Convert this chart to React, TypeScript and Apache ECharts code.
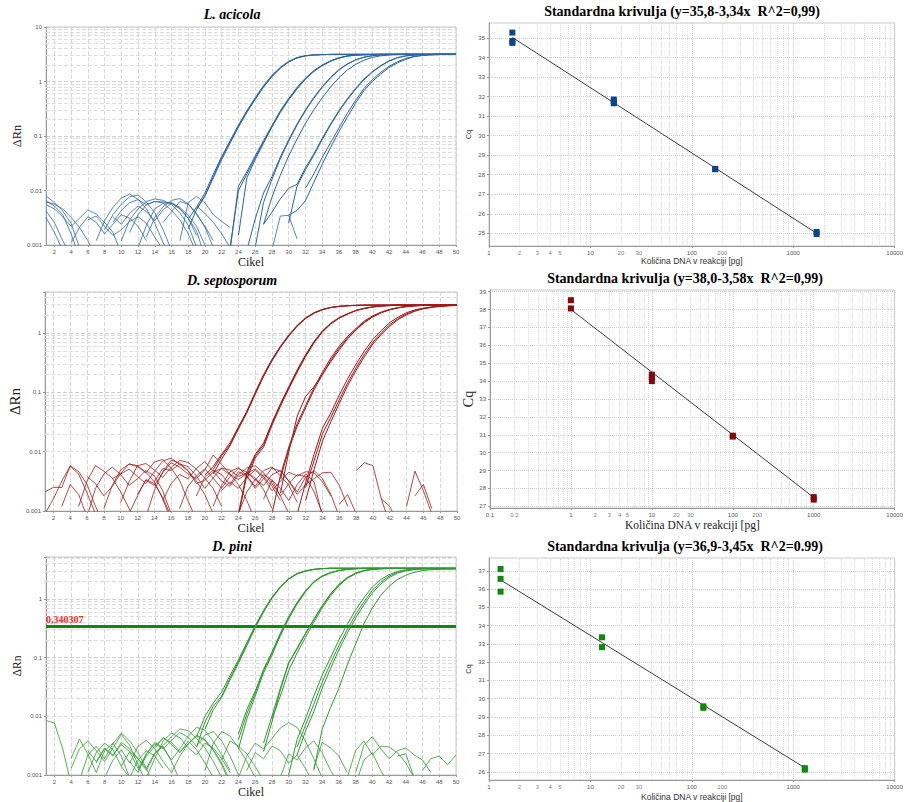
import React, { useEffect, useRef } from "react";
import * as echarts from "echarts";

type Curve = [number, number[]];

const SANS = '"Liberation Sans", Arial, sans-serif';
const SERIF = '"Liberation Serif", "Times New Roman", serif';

// ---------- tick / grid values ----------
const cycleTicks = [2, 4, 6, 8, 10, 12, 14, 16, 18, 20, 22, 24, 26, 28, 30, 32, 34, 36, 38, 40, 42, 44, 46, 48, 50];
const deltaRnMinorGrid = [
  0.002, 0.003, 0.004, 0.005, 0.006, 0.007, 0.008, 0.009,
  0.02, 0.03, 0.04, 0.05, 0.06, 0.07, 0.08, 0.09,
  0.2, 0.3, 0.4, 0.5, 0.6, 0.7, 0.8, 0.9,
  2, 3, 4, 5, 6, 7, 8, 9,
];
const dnaMinorGrid = [
  0.2, 0.3, 0.4, 0.5, 0.6, 0.7, 0.8, 0.9,
  2, 3, 4, 5, 6, 7, 8, 9,
  20, 30, 40, 50, 60, 70, 80, 90,
  200, 300, 400, 500, 600, 700, 800, 900,
  2000, 3000, 4000, 5000, 6000, 7000, 8000, 9000,
];
const dnaMinorLabelsA = [2, 3, 4, 5, 20, 30, 200];
const dnaMinorLabelsB = [0.2, 2, 3, 4, 5, 20, 30, 200];
const cqTicksAcicola = [25, 26, 27, 28, 29, 30, 31, 32, 33, 34, 35];
const cqTicksSepto = [27, 28, 29, 30, 31, 32, 33, 34, 35, 36, 37, 38, 39];
const cqTicksPini = [26, 27, 28, 29, 30, 31, 32, 33, 34, 35, 36, 37];
const piniThreshold = 0.340307;

// ---------- L. acicola amplification (start cycle, ΔRn values) ----------
const acicolaAmp: Curve[] = [
  [18, [0.003, 0.005, 0.009, 0.02, 0.042, 0.082, 0.16, 0.29, 0.5, 0.84, 1.3, 1.82, 2.35, 2.75, 2.98, 3.08, 3.12, 3.14, 3.15, 3.15, 3.15, 3.15, 3.15, 3.15, 3.15, 3.15, 3.15, 3.15, 3.15, 3.15, 3.15, 3.15, 3.15]],
  [19, [0.0045, 0.008, 0.018, 0.04, 0.078, 0.15, 0.28, 0.48, 0.8, 1.25, 1.78, 2.3, 2.72, 2.96, 3.07, 3.12, 3.14, 3.15, 3.15, 3.15, 3.15, 3.15, 3.15, 3.15, 3.15, 3.15, 3.15, 3.15, 3.15, 3.15, 3.15, 3.15]],
  [18, [0.002, 0.0045, 0.008, 0.017, 0.037, 0.074, 0.145, 0.27, 0.47, 0.79, 1.22, 1.75, 2.28, 2.7, 2.95, 3.06, 3.11, 3.14, 3.15, 3.15, 3.15, 3.15, 3.15, 3.15, 3.15, 3.15, 3.15, 3.15, 3.15, 3.15, 3.15, 3.15, 3.15]],
  [23, [0.0008, 0.012, 0.022, 0.043, 0.082, 0.155, 0.29, 0.49, 0.78, 1.15, 1.58, 2.0, 2.4, 2.72, 2.95, 3.06, 3.11, 3.13, 3.15, 3.15, 3.15, 3.15, 3.15, 3.15, 3.15, 3.15, 3.15, 3.15]],
  [23, [0.0009, 0.01, 0.02, 0.04, 0.078, 0.15, 0.28, 0.47, 0.75, 1.12, 1.55, 1.97, 2.37, 2.7, 2.93, 3.05, 3.1, 3.13, 3.15, 3.15, 3.15, 3.15, 3.15, 3.15, 3.15, 3.15, 3.15, 3.15]],
  [24, [0.0015, 0.017, 0.037, 0.074, 0.145, 0.27, 0.46, 0.73, 1.1, 1.52, 1.95, 2.35, 2.68, 2.92, 3.04, 3.1, 3.13, 3.15, 3.15, 3.15, 3.15, 3.15, 3.15, 3.15, 3.15, 3.15, 3.15]],
  [25, [0.0008, 0.003, 0.009, 0.018, 0.041, 0.085, 0.166, 0.3, 0.51, 0.8, 1.19, 1.65, 2.1, 2.5, 2.8, 2.98, 3.08, 3.12, 3.14, 3.15, 3.15, 3.15, 3.15, 3.15, 3.15, 3.15]],
  [26, [0.0009, 0.006, 0.016, 0.038, 0.08, 0.158, 0.29, 0.49, 0.78, 1.16, 1.62, 2.07, 2.48, 2.78, 2.97, 3.07, 3.12, 3.14, 3.15, 3.15, 3.15, 3.15, 3.15, 3.15, 3.15]],
  [27, [0.0024, 0.0075, 0.019, 0.043, 0.088, 0.17, 0.3, 0.5, 0.79, 1.17, 1.62, 2.06, 2.46, 2.77, 2.96, 3.06, 3.11, 3.15, 3.15, 3.15, 3.15, 3.15, 3.15, 3.15]],
  [27, [0.0024, 0.004, 0.007, 0.011, 0.013, 0.026, 0.047, 0.09, 0.166, 0.29, 0.48, 0.75, 1.11, 1.52, 1.96, 2.4, 2.75, 2.96, 3.06, 3.11, 3.13, 3.15, 3.15, 3.15]],
  [30, [0.0025, 0.012, 0.024, 0.044, 0.085, 0.158, 0.28, 0.46, 0.72, 1.07, 1.48, 1.92, 2.36, 2.72, 2.94, 3.05, 3.1, 3.13, 3.15, 3.15, 3.15]],
  [30, [0.0035, 0.0043, 0.0065, 0.014, 0.03, 0.061, 0.12, 0.22, 0.4, 0.68, 1.0, 1.37, 1.8, 2.2, 2.55, 2.85, 3.0, 3.08, 3.12, 3.14, 3.15]],
  [32, [0.011, 0.02, 0.04, 0.075, 0.14, 0.26, 0.45, 0.74, 1.08, 1.47, 1.9, 2.3, 2.65, 2.9, 3.03, 3.09, 3.12, 3.14, 3.15]],
];
const acicolaNoise: Curve[] = [
  [1, [0.008, 0.006, 0.0042, 0.0025, 0.0009]],
  [1, [0.0065, 0.0052, 0.0036, 0.0016, 0.0006]],
  [1, [0.0062, 0.0056, 0.0046, 0.0032, 0.0021, 0.0012, 0.0006]],
  [1, [0.0042, 0.0026, 0.0012, 0.0006]],
  [1, [0.0032, 0.0017, 0.0008]],
  [1, [0.0055, 0.0046, 0.0033, 0.0022, 0.0031, 0.0044, 0.0037, 0.0026, 0.0017, 0.0007]],
  [4, [0.0011, 0.0021, 0.0033, 0.0026, 0.0016, 0.0024, 0.0036, 0.0031, 0.0022, 0.0012]],
  [7, [0.0012, 0.0028, 0.0049, 0.0073, 0.0086, 0.0069, 0.0046, 0.0025, 0.0011, 0.0006]],
  [8, [0.0019, 0.0036, 0.0056, 0.0077, 0.0083, 0.0061, 0.0039, 0.0019, 0.0008]],
  [9, [0.0026, 0.0043, 0.006, 0.0068, 0.0055, 0.0063, 0.0059, 0.0043, 0.0029, 0.0016, 0.0007]],
  [10, [0.0012, 0.0029, 0.0046, 0.0063, 0.007, 0.0066, 0.0055, 0.0039, 0.0023, 0.0009]],
  [11, [0.0017, 0.0036, 0.0055, 0.0063, 0.0062, 0.0058, 0.0046, 0.0031, 0.0015]],
  [12, [0.0009, 0.0023, 0.0046, 0.0058, 0.006, 0.0049, 0.0035, 0.0022, 0.001]],
  [6, [0.0029, 0.0034, 0.0022, 0.0015, 0.0019, 0.0027, 0.0033, 0.0025, 0.0014, 0.0008]],
  [15, [0.0026, 0.0041, 0.0063, 0.0056, 0.0036, 0.0022, 0.0012]],
  [17, [0.0012, 0.006, 0.0078, 0.0059, 0.0036, 0.0027, 0.0021]],
  [19, [0.0052, 0.0038, 0.0026, 0.0016, 0.0009]],
  [28, [0.0008, 0.0034, 0.0035, 0.0013]],
  [9, [0.0033, 0.0024, 0.0038, 0.0052, 0.0041, 0.0028, 0.0044, 0.0058, 0.0047, 0.0031, 0.0018, 0.0006]],
  [13, [0.0014, 0.0032, 0.005, 0.0066, 0.0071, 0.0057, 0.0038, 0.0021, 0.0009]],
];
const acicolaStdX = [1.7, 1.7, 1.7, 17, 17, 17, 170, 170, 1700, 1700];
const acicolaStdCq = [35.28, 34.85, 34.75, 31.85, 31.75, 31.66, 28.3, 28.28, 25.07, 24.96];
const acicolaFitX = [1.7, 1700];
const acicolaFitCq = [35.03, 25.0];

// ---------- D. septosporum ----------
const septoAmp: Curve[] = [
  [20, [0.004, 0.0056, 0.009, 0.014, 0.026, 0.048, 0.1, 0.2, 0.36, 0.6, 0.93, 1.35, 1.8, 2.2, 2.5, 2.7, 2.82, 2.88, 2.92, 2.94, 2.95, 2.95, 2.95, 2.95, 2.95, 2.95, 2.95, 2.95, 2.95, 2.95, 2.95]],
  [21, [0.005, 0.0085, 0.013, 0.025, 0.046, 0.095, 0.19, 0.35, 0.58, 0.9, 1.32, 1.77, 2.17, 2.48, 2.69, 2.81, 2.88, 2.92, 2.94, 2.95, 2.95, 2.95, 2.95, 2.95, 2.95, 2.95, 2.95, 2.95, 2.95, 2.95]],
  [21, [0.0042, 0.0075, 0.0125, 0.024, 0.045, 0.093, 0.186, 0.34, 0.57, 0.89, 1.3, 1.75, 2.15, 2.46, 2.68, 2.8, 2.87, 2.91, 2.94, 2.95, 2.95, 2.95, 2.95, 2.95, 2.95, 2.95, 2.95, 2.95, 2.95, 2.95]],
  [24, [0.0008, 0.004, 0.0085, 0.013, 0.03, 0.062, 0.12, 0.23, 0.42, 0.7, 1.07, 1.45, 1.8, 2.1, 2.4, 2.6, 2.75, 2.85, 2.9, 2.94, 2.94, 2.94, 2.94, 2.94, 2.94, 2.94, 2.94]],
  [24, [0.0009, 0.0045, 0.009, 0.014, 0.031, 0.064, 0.125, 0.24, 0.43, 0.72, 1.09, 1.47, 1.82, 2.12, 2.41, 2.61, 2.76, 2.85, 2.9, 2.94, 2.94, 2.94, 2.94, 2.94, 2.94, 2.94, 2.94]],
  [25, [0.0035, 0.0078, 0.012, 0.028, 0.058, 0.115, 0.22, 0.4, 0.68, 1.04, 1.42, 1.78, 2.08, 2.38, 2.58, 2.74, 2.84, 2.9, 2.94, 2.94, 2.94, 2.94, 2.94, 2.94, 2.94, 2.94]],
  [28, [0.0009, 0.004, 0.012, 0.03, 0.06, 0.12, 0.22, 0.38, 0.6, 0.88, 1.2, 1.6, 1.95, 2.25, 2.5, 2.68, 2.8, 2.88, 2.92, 2.94, 2.94, 2.94, 2.94]],
  [29, [0.002, 0.01, 0.04, 0.085, 0.125, 0.2, 0.33, 0.52, 0.8, 1.13, 1.5, 1.87, 2.2, 2.46, 2.65, 2.78, 2.86, 2.91, 2.93, 2.94, 2.94, 2.94]],
  [29, [0.0035, 0.011, 0.027, 0.055, 0.11, 0.2, 0.35, 0.56, 0.83, 1.15, 1.54, 1.9, 2.21, 2.47, 2.66, 2.79, 2.87, 2.91, 2.93, 2.94, 2.94, 2.94]],
  [31, [0.0009, 0.003, 0.009, 0.025, 0.045, 0.09, 0.17, 0.3, 0.5, 0.78, 1.1, 1.5, 1.85, 2.2, 2.45, 2.62, 2.75, 2.85, 2.9, 2.93]],
  [32, [0.0025, 0.007, 0.02, 0.038, 0.075, 0.145, 0.26, 0.44, 0.7, 1.0, 1.38, 1.75, 2.1, 2.38, 2.58, 2.72, 2.82, 2.88, 2.92]],
  [32, [0.0015, 0.005, 0.015, 0.032, 0.065, 0.13, 0.235, 0.4, 0.65, 0.95, 1.3, 1.68, 2.03, 2.33, 2.55, 2.7, 2.8, 2.87, 2.91]],
];
const septoNoise: Curve[] = [
  [1, [0.0021, 0.0025, 0.0025, 0.0058, 0.0046, 0.0028, 0.0012, 0.0006]],
  [1, [0.0009, 0.0016, 0.0032, 0.0057, 0.0042, 0.002, 0.0009]],
  [5, [0.0012, 0.0032, 0.0058, 0.0047, 0.0036, 0.0021, 0.0011, 0.0006]],
  [6, [0.0008, 0.0024, 0.0042, 0.0055, 0.0041, 0.0027, 0.0035, 0.0048, 0.0039, 0.0022, 0.0009]],
  [6, [0.0038, 0.0029, 0.0018, 0.0026, 0.0043, 0.0062, 0.0058, 0.0045, 0.0031, 0.0016, 0.0007]],
  [8, [0.0011, 0.0027, 0.0049, 0.0062, 0.0056, 0.0044, 0.0067, 0.0074, 0.0053, 0.0033, 0.0015, 0.0007]],
  [9, [0.0035, 0.0042, 0.0051, 0.0038, 0.0029, 0.0046, 0.0069, 0.0078, 0.0061, 0.0048, 0.0032, 0.0019, 0.0009]],
  [10, [0.0014, 0.0031, 0.0058, 0.0063, 0.0049, 0.0037, 0.0054, 0.0071, 0.0066, 0.0051, 0.0036, 0.0024, 0.0012]],
  [12, [0.0019, 0.0033, 0.0027, 0.0044, 0.0065, 0.0055, 0.0042, 0.0035, 0.0049, 0.0088, 0.0061, 0.0042, 0.0028, 0.0015, 0.0007]],
  [13, [0.0008, 0.0022, 0.0046, 0.0072, 0.0064, 0.0048, 0.0029, 0.0033, 0.0045, 0.0052, 0.0041, 0.0034, 0.0043, 0.0051, 0.0038, 0.0026, 0.0015]],
  [14, [0.0031, 0.0052, 0.0048, 0.0062, 0.0056, 0.0039, 0.0024, 0.0036, 0.0053, 0.0049, 0.0038, 0.0044, 0.0036, 0.0023, 0.0011]],
  [15, [0.0015, 0.0029, 0.0041, 0.0035, 0.0052, 0.0068, 0.0047, 0.0032, 0.0026, 0.0041, 0.0053, 0.0058, 0.0044, 0.0029, 0.0018, 0.0009]],
  [17, [0.0011, 0.0026, 0.0039, 0.0051, 0.0036, 0.0024, 0.0038, 0.0052, 0.0045, 0.0033, 0.0048, 0.0055, 0.0039, 0.0027, 0.0014]],
  [19, [0.0018, 0.0037, 0.0049, 0.0041, 0.0028, 0.0046, 0.0039, 0.0024, 0.0035, 0.0053, 0.0047, 0.0032, 0.0021, 0.0037, 0.0048, 0.0035, 0.0019, 0.0008]],
  [21, [0.0012, 0.0027, 0.0046, 0.0054, 0.0039, 0.0026, 0.0041, 0.0033, 0.0018, 0.0029, 0.0041, 0.0038, 0.0021, 0.0009]],
  [22, [0.0022, 0.0031, 0.0024, 0.0037, 0.0049, 0.0036, 0.0022, 0.0032, 0.0045, 0.0039, 0.0046, 0.0044, 0.0031, 0.0018]],
  [24, [0.0009, 0.0021, 0.0034, 0.0027, 0.0041, 0.0048, 0.0032, 0.0019, 0.0028, 0.0035, 0.0044, 0.0045, 0.0027, 0.0012]],
  [27, [0.0016, 0.0033, 0.0024, 0.0015, 0.0028, 0.0042, 0.0031, 0.0008]],
  [3, [0.0012, 0.0028, 0.0019, 0.0008]],
  [11, [0.0009, 0.0018, 0.0034, 0.0029, 0.0017, 0.0008]],
  [38, [0.0048, 0.0065, 0.0058, 0.0016, 0.0006]],
  [44, [0.0012, 0.0047, 0.0022, 0.0009]],
  [36, [0.0013, 0.0019, 0.0009]],
  [41, [0.0016, 0.0012, 0.0006]],
  [45, [0.0018, 0.0028, 0.0011]],
];
const septoStdX = [1, 1, 10, 10, 10, 100, 100, 1000, 1000];
const septoStdCq = [38.52, 38.06, 34.36, 34.2, 34.0, 30.95, 30.9, 27.52, 27.38];
const septoFitX = [1, 1000];
const septoFitCq = [38.0, 27.5];

// ---------- D. pini ----------
const piniAmp: Curve[] = [
  [19, [0.003, 0.008, 0.015, 0.022, 0.045, 0.085, 0.17, 0.34, 0.62, 1.05, 1.6, 2.2, 2.7, 3.0, 3.2, 3.3, 3.35, 3.35, 3.35, 3.35, 3.35, 3.35, 3.35, 3.35, 3.35, 3.35, 3.35, 3.35, 3.35, 3.35, 3.35, 3.35]],
  [19, [0.0045, 0.01, 0.017, 0.026, 0.05, 0.092, 0.18, 0.35, 0.64, 1.07, 1.62, 2.22, 2.72, 3.02, 3.21, 3.3, 3.35, 3.35, 3.35, 3.35, 3.35, 3.35, 3.35, 3.35, 3.35, 3.35, 3.35, 3.35, 3.35, 3.35, 3.35, 3.35]],
  [20, [0.006, 0.013, 0.021, 0.042, 0.08, 0.16, 0.32, 0.6, 1.02, 1.57, 2.17, 2.67, 2.98, 3.18, 3.28, 3.34, 3.34, 3.34, 3.34, 3.34, 3.34, 3.34, 3.34, 3.34, 3.34, 3.34, 3.34, 3.34, 3.34, 3.34, 3.34]],
  [24, [0.004, 0.011, 0.025, 0.06, 0.12, 0.25, 0.48, 0.85, 1.35, 1.95, 2.45, 2.8, 3.05, 3.2, 3.28, 3.33, 3.33, 3.33, 3.33, 3.33, 3.33, 3.33, 3.33, 3.33, 3.33, 3.33, 3.33]],
  [24, [0.005, 0.013, 0.027, 0.063, 0.125, 0.26, 0.5, 0.87, 1.38, 1.97, 2.47, 2.82, 3.06, 3.21, 3.29, 3.33, 3.33, 3.33, 3.33, 3.33, 3.33, 3.33, 3.33, 3.33, 3.33, 3.33, 3.33]],
  [24, [0.0028, 0.009, 0.022, 0.055, 0.11, 0.235, 0.46, 0.82, 1.32, 1.92, 2.42, 2.78, 3.04, 3.19, 3.27, 3.33, 3.33, 3.33, 3.33, 3.33, 3.33, 3.33, 3.33, 3.33, 3.33, 3.33, 3.33]],
  [27, [0.0025, 0.008, 0.028, 0.08, 0.14, 0.25, 0.44, 0.75, 1.2, 1.75, 2.3, 2.75, 3.05, 3.2, 3.28, 3.32, 3.32, 3.32, 3.32, 3.32, 3.32, 3.32, 3.32, 3.32]],
  [27, [0.0035, 0.01, 0.03, 0.082, 0.145, 0.26, 0.45, 0.77, 1.22, 1.77, 2.32, 2.76, 3.06, 3.21, 3.29, 3.32, 3.32, 3.32, 3.32, 3.32, 3.32, 3.32, 3.32, 3.32]],
  [28, [0.009, 0.022, 0.06, 0.12, 0.22, 0.4, 0.7, 1.13, 1.68, 2.24, 2.7, 3.02, 3.19, 3.27, 3.31, 3.31, 3.31, 3.31, 3.31, 3.31, 3.31, 3.31, 3.31]],
  [30, [0.001, 0.004, 0.009, 0.022, 0.05, 0.1, 0.2, 0.37, 0.65, 1.05, 1.6, 2.15, 2.6, 2.95, 3.15, 3.25, 3.3, 3.3, 3.3, 3.3, 3.3]],
  [31, [0.003, 0.007, 0.016, 0.038, 0.08, 0.16, 0.3, 0.54, 0.9, 1.4, 1.95, 2.45, 2.85, 3.08, 3.2, 3.26, 3.28, 3.29, 3.3, 3.3]],
  [31, [0.0022, 0.0055, 0.012, 0.03, 0.065, 0.135, 0.26, 0.47, 0.8, 1.27, 1.8, 2.32, 2.75, 3.02, 3.17, 3.24, 3.27, 3.28, 3.29, 3.29]],
  [33, [0.0012, 0.006, 0.014, 0.03, 0.075, 0.17, 0.38, 0.7, 1.15, 1.65, 2.15, 2.55, 2.85, 3.05, 3.15, 3.2, 3.22, 3.24]],
];
const piniNoise: Curve[] = [
  [1, [0.0085, 0.0077, 0.0028, 0.0007]],
  [4, [0.0019, 0.0041, 0.0023, 0.0011, 0.0026, 0.0035, 0.0021, 0.0009]],
  [4, [0.0013, 0.0028, 0.0038, 0.0026, 0.0017, 0.0029, 0.0049, 0.0032, 0.0015, 0.0007]],
  [5, [0.0008, 0.0022, 0.0031, 0.0019, 0.0034, 0.0052, 0.0038, 0.0024, 0.0013, 0.0006]],
  [6, [0.0026, 0.0017, 0.0028, 0.0021, 0.0036, 0.0028, 0.0019, 0.0012, 0.0023, 0.0031, 0.0017, 0.0008]],
  [6, [0.0011, 0.0024, 0.0035, 0.0027, 0.0014, 0.0009, 0.0018, 0.0026, 0.0021, 0.0013]],
  [7, [0.0016, 0.0029, 0.0022, 0.0033, 0.0025, 0.0013, 0.0023, 0.0036, 0.0029, 0.0018, 0.0028, 0.0046, 0.0065, 0.0058, 0.0037, 0.0022, 0.0012]],
  [8, [0.0009, 0.0018, 0.0027, 0.0016, 0.0031, 0.0039, 0.0028, 0.0017, 0.0011, 0.0021, 0.0034, 0.0048, 0.0039, 0.0026, 0.0015, 0.0007]],
  [10, [0.0014, 0.0025, 0.0019, 0.0013, 0.0024, 0.0032, 0.0045, 0.0061, 0.0057, 0.0042, 0.0029, 0.0017, 0.0009]],
  [11, [0.0017, 0.0011, 0.0023, 0.0034, 0.0028, 0.0039, 0.0053, 0.0044, 0.0031, 0.0048, 0.0055, 0.0038, 0.0021, 0.001]],
  [12, [0.0012, 0.0021, 0.0031, 0.0042, 0.0036, 0.0025, 0.0034, 0.0046, 0.004, 0.0027, 0.0016, 0.0008]],
  [13, [0.0009, 0.0019, 0.0038, 0.0052, 0.0043, 0.0029, 0.0022, 0.0035, 0.0029, 0.0019, 0.0011]],
  [14, [0.0028, 0.0044, 0.0033, 0.0024, 0.0038, 0.0027, 0.0016, 0.0009]],
  [20, [0.0012, 0.0035, 0.0055, 0.0046, 0.0029, 0.0017, 0.0009]],
  [22, [0.0018, 0.0038, 0.0031, 0.0023, 0.0014, 0.0008]],
  [24, [0.0009, 0.0021, 0.0035, 0.0028, 0.0042, 0.0063, 0.0078, 0.0065, 0.0038, 0.0019, 0.0009]],
  [25, [0.0012, 0.0024, 0.0019, 0.0031, 0.0026, 0.0016, 0.0022, 0.0013, 0.0007]],
  [29, [0.0009, 0.0023, 0.0018, 0.0029, 0.0038, 0.0024, 0.0012, 0.0007]],
  [33, [0.0013, 0.0036, 0.0029, 0.0021, 0.0011]],
  [37, [0.0009, 0.0026, 0.0038, 0.0022, 0.0031, 0.003, 0.0024, 0.0016, 0.0009]],
  [38, [0.0011, 0.0032, 0.0045, 0.0028, 0.0019, 0.0026, 0.0029, 0.0022, 0.0018, 0.0011]],
  [38, [0.0007, 0.0018, 0.0024, 0.0012, 0.0007]],
  [46, [0.0012, 0.0019, 0.0021, 0.0015, 0.0022]],
  [43, [0.0021, 0.0023, 0.0009]],
];
const piniStdX = [1.3, 1.3, 1.3, 13, 13, 130, 130, 1300, 1300];
const piniStdCq = [37.1, 36.56, 35.86, 33.36, 32.82, 29.58, 29.5, 26.2, 26.12];
const piniFitX = [1.3, 1300];
const piniFitCq = [36.5, 26.22];

// ---------- helpers ----------
const decadeLabel = (v: number) => {
  const l = Math.log10(v);
  return Math.abs(l - Math.round(l)) < 1e-6 ? String(+v.toPrecision(3)) : "";
};

function curveSeries(curves: Curve[], color: string, idx: number, width: number, extra?: any[]) {
  return curves.map(([start, vals], i) => ({
    type: "line",
    xAxisIndex: idx,
    yAxisIndex: idx,
    data: vals.map((v, k) => [start + k, v]),
    symbol: "none",
    silent: true,
    clip: true,
    z: 10,
    lineStyle: { color, width },
    ...(extra && extra[i] ? extra[i] : {}),
  }));
}

function cycleAxis(idx: number, nameSize: number, nameGap: number) {
  return {
    type: "value",
    gridIndex: idx,
    min: 1,
    max: 50,
    name: "Cikel",
    nameLocation: "middle",
    nameGap,
    nameTextStyle: { fontFamily: SERIF, fontSize: nameSize, color: "#222" },
    axisLine: { lineStyle: { color: "#9a9a9a" } },
    axisTick: { customValues: cycleTicks, length: 2, lineStyle: { color: "#9a9a9a" } },
    axisLabel: { customValues: cycleTicks, fontSize: 6, color: "#555", margin: 4, fontFamily: SANS },
    splitLine: { show: true, lineStyle: { color: "#d6d6d6", type: "dashed", width: 1 } },
  };
}

function rnAxis(idx: number, max: number, nameSize: number, nameGap: number) {
  return {
    type: "log",
    logBase: 10,
    gridIndex: idx,
    min: 0.001,
    max,
    name: "ΔRn",
    nameLocation: "middle",
    nameRotate: 90,
    nameGap,
    nameTextStyle: { fontFamily: SERIF, fontSize: nameSize, color: "#222" },
    axisLine: { show: true, lineStyle: { color: "#9a9a9a" } },
    axisTick: { show: true, length: 2, lineStyle: { color: "#9a9a9a" } },
    axisLabel: { formatter: decadeLabel, fontSize: 6, color: "#555", margin: 4, fontFamily: SANS },
    splitLine: { show: true, lineStyle: { color: "#cfcfcf", type: "dashed", width: 1 } },
  };
}

function dnaAxis(idx: number, min: number, nameStyle: any, nameGap: number) {
  return {
    type: "log",
    logBase: 10,
    gridIndex: idx,
    min,
    max: 10000,
    name: "Količina DNA v reakciji [pg]",
    nameLocation: "middle",
    nameGap,
    nameTextStyle: nameStyle,
    axisLine: { lineStyle: { color: "#9a9a9a" } },
    axisTick: { length: 2, lineStyle: { color: "#9a9a9a" } },
    axisLabel: { formatter: (v: number) => String(+v.toPrecision(6)), fontSize: 6, color: "#555", margin: 4, fontFamily: SANS },
    splitLine: { show: true, lineStyle: { color: "#cfcfcf", type: "dotted", width: 1 } },
  };
}

function cqAxis(idx: number, min: number, max: number, ticks: number[], nameStyle: any, nameGap: number) {
  return {
    type: "value",
    gridIndex: idx,
    min,
    max,
    name: "Cq",
    nameLocation: "middle",
    nameRotate: 90,
    nameGap,
    nameTextStyle: nameStyle,
    axisLine: { show: true, lineStyle: { color: "#9a9a9a" } },
    axisTick: { show: true, customValues: ticks, length: 2, lineStyle: { color: "#9a9a9a" } },
    axisLabel: { customValues: ticks, fontSize: 6, color: "#555", margin: 4, fontFamily: SANS },
    splitLine: { show: true, lineStyle: { color: "#cfcfcf", type: "dotted", width: 1 } },
  };
}

function minorGrid(values: number[], axis: "xAxis" | "yAxis", lo: number, hi: number, type: string) {
  return {
    silent: true,
    symbol: "none",
    z: 1,
    animation: false,
    label: { show: false },
    lineStyle: { color: "#dedede", type, width: 1 },
    data: values.filter((v) => v > lo && v < hi).map((v) => ({ [axis]: v })),
  };
}

function stdSeries(idx: number, xs: number[], cqs: number[], fitX: number[], fitCq: number[], color: string, minorLabels: number[], xMin: number, yMin: number) {
  return [
    {
      type: "line",
      xAxisIndex: idx,
      yAxisIndex: idx,
      data: fitX.map((x, i) => [x, fitCq[i]]),
      symbol: "none",
      silent: true,
      z: 8,
      lineStyle: { color: "#3a3a3a", width: 1 },
      markLine: minorGrid(dnaMinorGrid, "xAxis", xMin, 10000, "dotted"),
    },
    {
      type: "scatter",
      xAxisIndex: idx,
      yAxisIndex: idx,
      data: xs.map((x, i) => [x, cqs[i]]),
      symbol: "rect",
      symbolSize: 6,
      silent: true,
      z: 12,
      itemStyle: { color, opacity: 1 },
    },
    {
      type: "scatter",
      xAxisIndex: idx,
      yAxisIndex: idx,
      data: minorLabels.map((v) => [v, yMin]),
      symbolSize: 1,
      silent: true,
      clip: false,
      itemStyle: { color: "rgba(0,0,0,0)" },
      label: {
        show: true,
        position: "bottom",
        distance: 3.5,
        formatter: (p: any) => String(p.value[0]),
        fontSize: 6,
        color: "#555",
        fontFamily: SANS,
      },
    },
  ];
}

const BLUE = "#2b63a8";
const RED = "#a31818";
const GREEN = "#2d9a2d";

export default function App() {
  const ref = useRef<HTMLDivElement>(null);
  useEffect(() => {
    if (!ref.current) return;
    const chart = echarts.init(ref.current, null, { renderer: "svg" });

    const titleStyle = (italic: boolean) => ({
      fontFamily: SERIF,
      fontStyle: italic ? "italic" : "normal",
      fontWeight: "bold",
      fontSize: 14,
      color: "#000",
    });

    const sansName = { fontFamily: SANS, fontSize: 8.5, color: "#333" };
    const sansNameCq = { fontFamily: SANS, fontSize: 7.5, color: "#333" };
    const serifName = { fontFamily: SERIF, fontSize: 11.5, color: "#222" };
    const serifNameCq = { fontFamily: SERIF, fontSize: 14, color: "#222" };

    const gridBase = { show: true, borderColor: "#c8c8c8", borderWidth: 1, containLabel: false };

    const acicolaLines = [
      ...curveSeries(acicolaNoise, BLUE, 0, 0.8, [{ markLine: minorGrid(deltaRnMinorGrid, "yAxis", 0.001, 10, "dashed") }]),
      ...curveSeries(acicolaAmp, BLUE, 0, 1),
    ];
    const septoLines = [
      ...curveSeries(septoNoise, RED, 2, 0.8, [{ markLine: minorGrid(deltaRnMinorGrid, "yAxis", 0.001, 4.9, "dashed") }]),
      ...curveSeries(septoAmp, RED, 2, 1),
    ];
    const piniLines = [
      ...curveSeries(piniNoise, GREEN, 4, 0.8, [{ markLine: minorGrid(deltaRnMinorGrid, "yAxis", 0.001, 5.2, "dashed") }]),
      ...curveSeries(piniAmp, GREEN, 4, 1, [
        {
          markLine: {
            silent: true,
            symbol: "none",
            data: [{ yAxis: piniThreshold }],
            lineStyle: { color: "#0c8a0c", width: 3, type: "solid" },
            label: {
              show: true,
              position: "insideStartTop",
              distance: [0, 2],
              formatter: "0,340307",
              color: "#ff2a2a",
              fontWeight: "bold",
              fontSize: 10,
              fontFamily: SERIF,
            },
          },
        },
      ]),
    ];

    chart.setOption({
      animation: false,
      backgroundColor: "#ffffff",
      title: [
        { text: "L. acicola", left: 232, top: 7, textAlign: "center", padding: 0, textStyle: titleStyle(true) },
        { text: "Standardna krivulja (y=35,8-3,34x  R^2=0,99)", left: 682, top: 4, textAlign: "center", padding: 0, textStyle: titleStyle(false) },
        { text: "D. septosporum", left: 232, top: 273, textAlign: "center", padding: 0, textStyle: titleStyle(true) },
        { text: "Standardna krivulja (y=38,0-3,58x  R^2=0,99)", left: 685, top: 271, textAlign: "center", padding: 0, textStyle: titleStyle(false) },
        { text: "D. pini", left: 232, top: 539, textAlign: "center", padding: 0, textStyle: titleStyle(true) },
        { text: "Standardna krivulja (y=36,9-3,45x  R^2=0.99)", left: 685, top: 539, textAlign: "center", padding: 0, textStyle: titleStyle(false) },
      ],
      grid: [
        { ...gridBase, left: 46, top: 27, width: 410, height: 218 },
        { ...gridBase, left: 489, top: 23, width: 418, height: 223 },
        { ...gridBase, left: 45, top: 292, width: 412, height: 219 },
        { ...gridBase, left: 490, top: 290, width: 420, height: 218 },
        { ...gridBase, left: 46, top: 557, width: 410, height: 218 },
        { ...gridBase, left: 489, top: 558, width: 418, height: 222 },
      ],
      xAxis: [
        cycleAxis(0, 12, 11),
        dnaAxis(1, 1, sansName, 9),
        cycleAxis(2, 12.5, 10),
        dnaAxis(3, 0.1, serifName, 10),
        cycleAxis(4, 12, 11),
        dnaAxis(5, 1, sansName, 12),
      ],
      yAxis: [
        rnAxis(0, 10, 12.5, 21.5),
        cqAxis(1, 24.35, 35.77, cqTicksAcicola, sansNameCq, 16.5),
        rnAxis(2, 4.9, 15, 19),
        cqAxis(3, 26.91, 39.09, cqTicksSepto, serifNameCq, 13),
        rnAxis(4, 5.2, 11.5, 22),
        cqAxis(5, 25.55, 37.7, cqTicksPini, sansNameCq, 16.5),
      ],
      series: [
        ...acicolaLines,
        ...stdSeries(1, acicolaStdX, acicolaStdCq, acicolaFitX, acicolaFitCq, "#0a4689", dnaMinorLabelsA, 1, 24.35),
        ...septoLines,
        ...stdSeries(3, septoStdX, septoStdCq, septoFitX, septoFitCq, "#880808", dnaMinorLabelsB, 0.1, 26.91),
        ...piniLines,
        ...stdSeries(5, piniStdX, piniStdCq, piniFitX, piniFitCq, "#0e880e", dnaMinorLabelsA, 1, 25.55),
      ],
    });

    return () => chart.dispose();
  }, []);

  return (
    <div
      ref={ref}
      style={{ position: "absolute", left: 0, top: 0, width: 906, height: 802, background: "#fff", overflow: "hidden" }}
    />
  );
}
